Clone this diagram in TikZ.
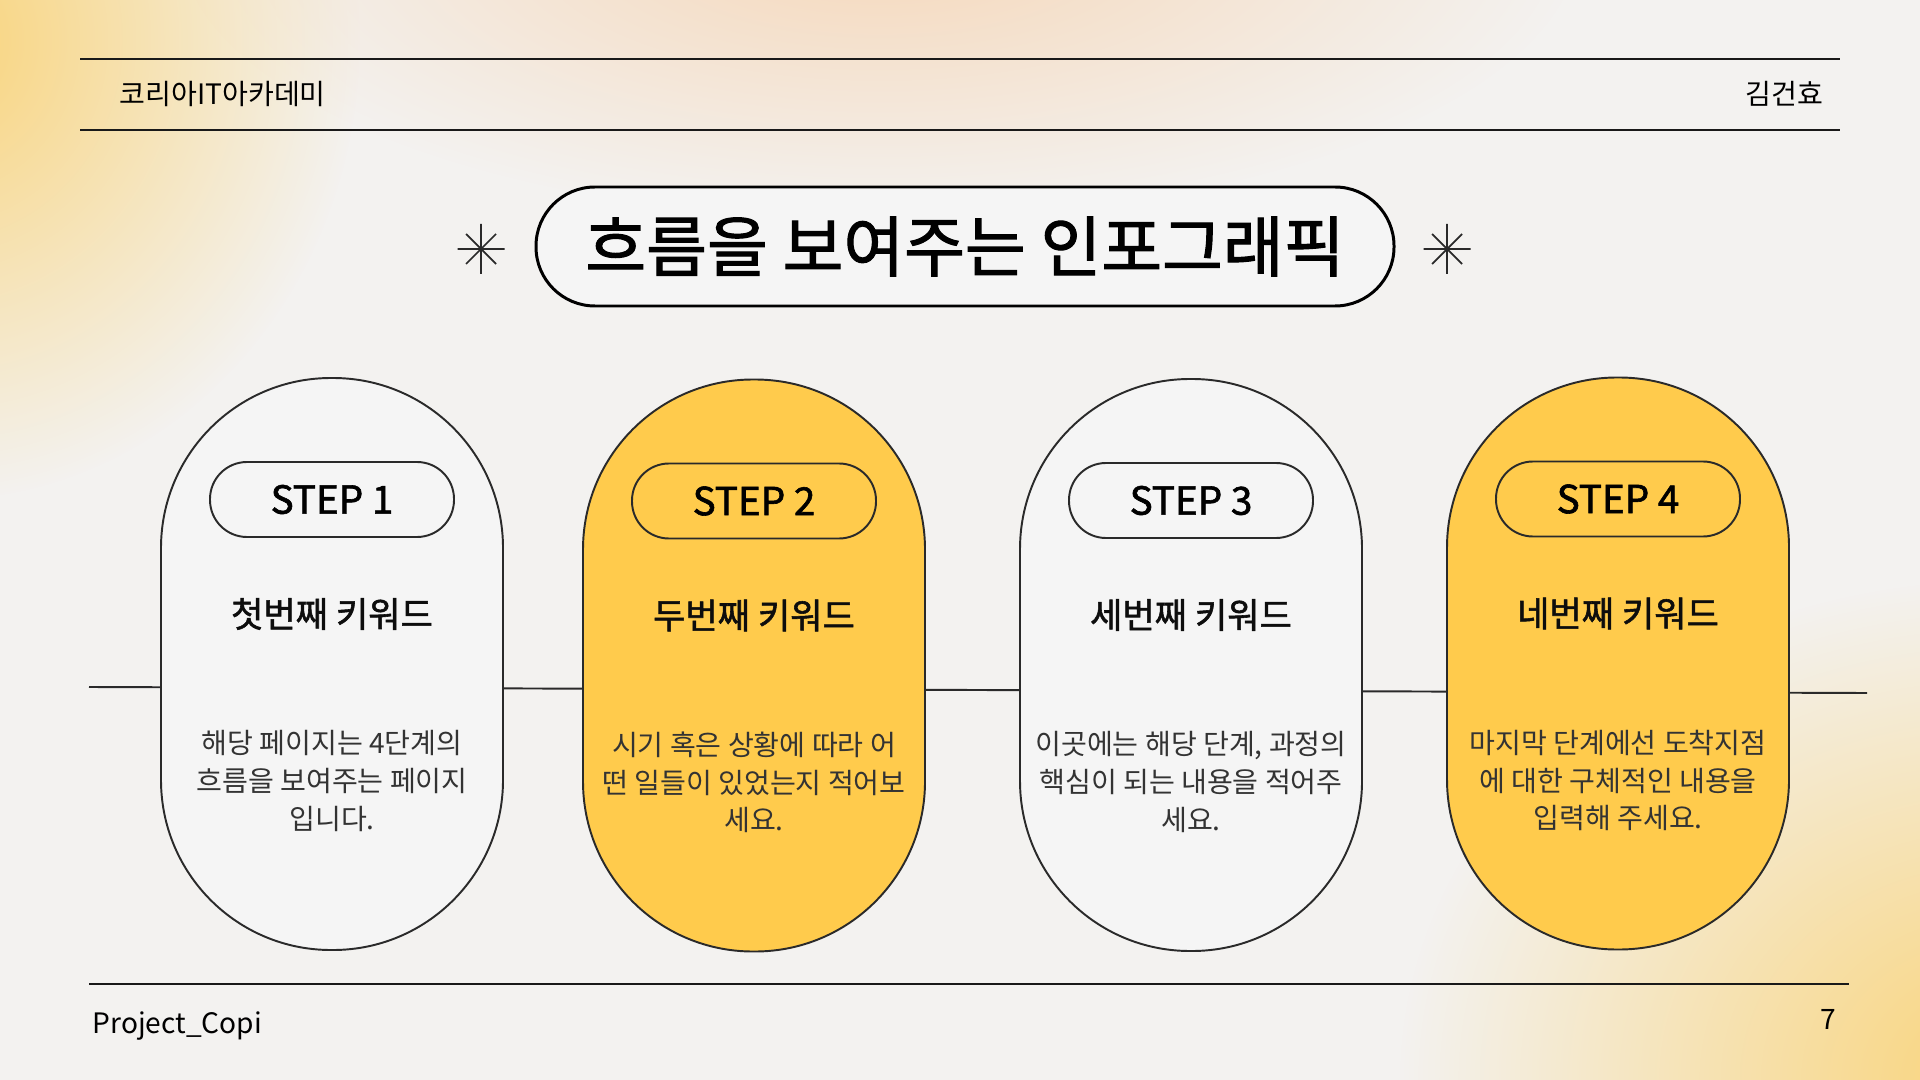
\documentclass[tikz,border=0pt]{standalone}
\usepackage{fontspec}
\setmainfont{Noto Sans CJK KR}
\newfontfamily\semifont{Noto Sans CJK KR}[FakeBold=1.6]
\usetikzlibrary{positioning, fadings, calc}

\definecolor{stepyellow}{HTML}{FFCB4C}
\definecolor{steplight}{HTML}{F5F5F5}
\definecolor{inkline}{HTML}{2A2A2A}
\definecolor{bodyink}{HTML}{333333}
\definecolor{bgbase}{HTML}{F3F2F0}
\definecolor{glowyellow}{HTML}{FAD47A}
\definecolor{glowpeach}{HTML}{F6D8BA}

\tikzfading[name=glowfade, inner color=transparent!0, outer color=transparent!100]

\begin{document}
\begin{tikzpicture}[
  rule/.style={draw=black!90, line width=0.8pt},
  stepbox/.style={draw=inkline, line width=0.55pt, rounded corners=1.7cm,
    minimum width=3.42cm, minimum height=5.72cm, inner sep=0pt},
  steptag/.style={draw=inkline, line width=0.55pt, rounded corners=0.37cm,
    minimum width=2.44cm, minimum height=0.75cm, inner sep=0pt,
    font=\semifont\fontsize{11pt}{13pt}\selectfont},
  keyword/.style={font=\semifont\fontsize{10pt}{12pt}\selectfont, text=black!95},
  bodytxt/.style={align=center, font=\fontsize{8pt}{10.7pt}\selectfont, text=bodyink},
  pagetxt/.style={inner sep=0pt, font=\fontsize{8pt}{10pt}\selectfont, text=black},
]

% Spark marks beside the title
\tikzset{
  sparkle/.pic={
    \draw[inkline, line width=0.5pt]
      (0,-0.25) -- (0,0.25) (-0.235,0) -- (0.235,0)
      (-0.15,-0.15) -- (0.15,0.15) (-0.15,0.15) -- (0.15,-0.15);
  },
}

% =========================
% Background
% =========================
\useasboundingbox (0,0) rectangle (19.2,-10.8);
\begin{scope}
  \clip (0,0) rectangle (19.2,-10.8);
  \fill[bgbase] (0,0) rectangle (19.2,-10.8);
  \fill[glowyellow, path fading=glowfade] (-0.6,-0.4) ellipse (4.2 and 4.6);
  \fill[glowpeach, path fading=glowfade] (8.8,0.6) ellipse (7 and 2.8);
  \fill[glowyellow, path fading=glowfade] (20,-10.8) ellipse (6 and 5);
\end{scope}

% =========================
% Header / footer
% =========================
\coordinate (hdrA1) at (0.80,-0.59);
\coordinate (hdrA2) at (18.40,-0.59);
\coordinate (hdrB1) at (0.80,-1.30);
\coordinate (hdrB2) at (18.40,-1.30);
\coordinate (ftr1) at (0.89,-9.84);
\coordinate (ftr2) at (18.49,-9.84);
\draw[rule] (hdrA1) -- (hdrA2);
\draw[rule] (hdrB1) -- (hdrB2);
\draw[rule] (ftr1) -- (ftr2);

\node[pagetxt, anchor=west] (academy) at (1.19,-0.94) {코리아IT아카데미};
\node[pagetxt, anchor=east] (author) at (18.24,-0.94) {김건효};
\node[pagetxt, anchor=west] (project) at (0.92,-10.26) {Project\_Copi};
\node[pagetxt, anchor=east] (pageno) at (18.37,-10.19) {7};

% =========================
% Title
% =========================
\node[draw=black, line width=0.85pt, fill=steplight, rounded corners=0.59cm,
  minimum width=8.58cm, minimum height=1.19cm, inner sep=0pt,
  font=\semifont\fontsize{18.8pt}{22pt}\selectfont] (title) at (9.65,-2.465)
  {흐름을 보여주는 인포그래픽};
\pic at (4.81,-2.49) {sparkle};
\pic at (14.47,-2.49) {sparkle};

% =========================
% Timeline
% =========================
\coordinate (lineL) at (0.89,-6.87);
\coordinate (lineR) at (18.67,-6.93);
\draw[inkline, line width=0.55pt] (lineL) -- (lineR);

% =========================
% Steps
% =========================
\node[stepbox, fill=steplight]  (step1) at (3.32,-6.64) {};
\node[stepbox, fill=stepyellow] (step2) at (7.54,-6.655) {};
\node[stepbox, fill=steplight]  (step3) at (11.91,-6.65) {};
\node[stepbox, fill=stepyellow] (step4) at (16.18,-6.635) {};

\foreach \k/\tag in {1/STEP 1, 2/STEP 2, 3/STEP 3, 4/STEP 4} {
  \node[steptag, below=0.84cm of step\k.north] (tag\k) {\tag};
}

% keywords
\node[keyword] (kw1) at ([yshift=0.5cm]step1.center) {첫번째 키워드};
\node[keyword] (kw2) at ([yshift=0.5cm]step2.center) {두번째 키워드};
\node[keyword] (kw3) at ([yshift=0.5cm]step3.center) {세번째 키워드};
\node[keyword] (kw4) at ([yshift=0.5cm]step4.center) {네번째 키워드};

% descriptions
\node[bodytxt] (txt1) at ([yshift=-1.17cm]step1.center)
  {해당 페이지는 4단계의\\흐름을 보여주는 페이지\\입니다.};
\node[bodytxt] (txt2) at ([yshift=-1.17cm]step2.center)
  {시기 혹은 상황에 따라 어\\떤 일들이 있었는지 적어보\\세요.};
\node[bodytxt] (txt3) at ([yshift=-1.17cm]step3.center)
  {이곳에는 해당 단계, 과정의\\핵심이 되는 내용을 적어주\\세요.};
\node[bodytxt] (txt4) at ([yshift=-1.17cm]step4.center)
  {마지막 단계에선 도착지점\\에 대한 구체적인 내용을\\입력해 주세요.};

\end{tikzpicture}
\end{document}
